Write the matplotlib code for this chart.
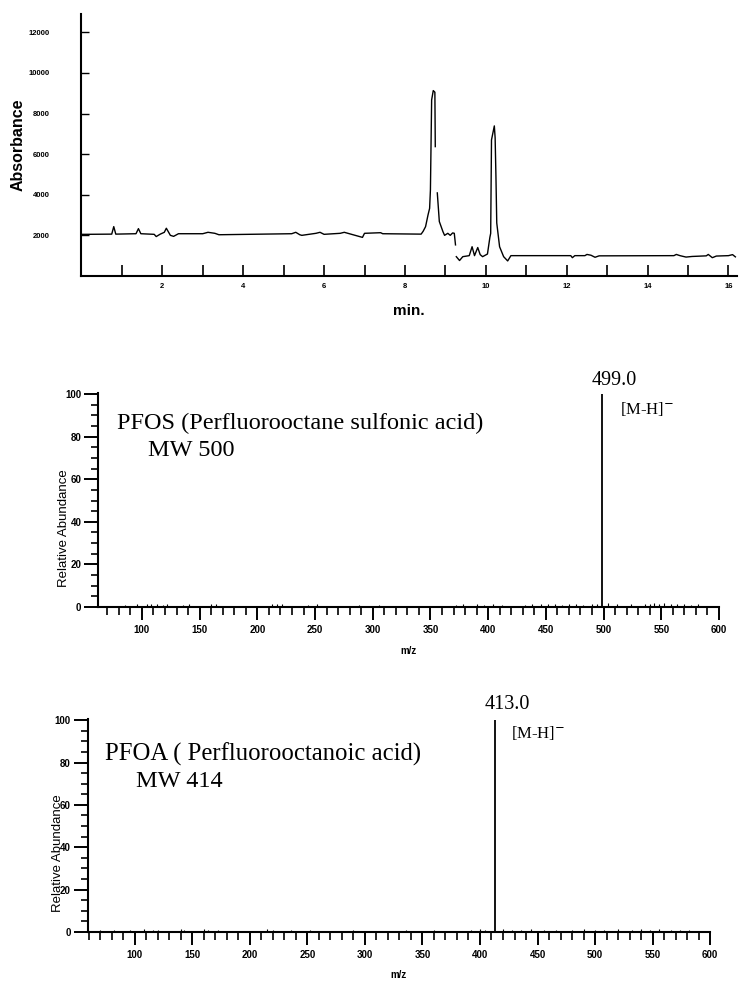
import numpy as np
import matplotlib
matplotlib.use("Agg")
import matplotlib.pyplot as plt
from matplotlib.ticker import FixedLocator, MultipleLocator

# ---------------- data ----------------
# Chromatogram (time in min, absorbance); NaN marks breaks in the trace
chrom_time = [0.0, 0.1, 0.75, 0.8, 0.85, 1.35, 1.41, 1.47, 1.8, 1.85, 1.95, 2.05, 2.1, 2.2,
              2.28, 2.4, 3.0, 3.13, 3.3, 3.4, 5.2, 5.3, 5.4, 5.45, 5.8, 5.9, 6.0, 6.4, 6.5,
              6.95, 7.0, 7.4, 7.45, 8.4, 8.45, 8.51, 8.57, 8.61, 8.63, 8.66, 8.70, 8.74, 8.75,
              8.75,
              8.80, 8.85, 8.94, 8.98, 9.06, 9.12, 9.18, 9.22, 9.25,
              9.26,
              9.27, 9.35, 9.43, 9.59, 9.66, 9.72, 9.80, 9.86, 9.92, 10.04, 10.10, 10.12, 10.14,
              10.21, 10.23, 10.25, 10.27, 10.34, 10.44, 10.54, 10.62, 12.10, 12.14, 12.2,
              12.45, 12.5, 12.6, 12.7, 12.8, 14.65, 14.71, 14.8, 14.95, 15.1, 15.45, 15.5,
              15.6, 15.7, 16.0, 16.1, 16.17]
chrom_abs = [2050, 2050, 2060, 2430, 2060, 2080, 2330, 2080, 2050, 1940, 2060, 2150, 2350, 2000,
             1950, 2080, 2080, 2150, 2100, 2030, 2080, 2150, 2030, 2000, 2100, 2150, 2050, 2100,
             2150, 1900, 2100, 2130, 2080, 2060, 2200, 2430, 3000, 3330, 4240, 8670, 9130, 9050,
             6370,
             np.nan,
             4090, 2680, 2180, 2000, 2100, 2000, 2120, 2100, 1530,
             np.nan,
             950, 760, 950, 1000, 1440, 1000, 1400, 1050, 950, 1080, 1900, 2100, 6700,
             7390, 6800, 4890, 2610, 1440, 950, 740, 1000, 1000, 900, 1000,
             1000, 1060, 1020, 920, 990, 1000, 1060, 1000, 930, 960, 990, 1060,
             900, 980, 1000, 1050, 940]
chrom_xticks = list(range(1, 17))
chrom_xlabels = ["" if t % 2 else str(t) for t in chrom_xticks]
chrom_yticks = [2000, 4000, 6000, 8000, 10000, 12000]

# PFOS mass spectrum
pfos_peak_mz = 499.0
pfos_peak_int = 100.0
pfos_noise_mz = [85, 96, 104, 108, 113, 118, 122, 136, 141, 160, 164, 213, 217, 221, 244, 252,
                 288, 305, 372, 378, 390, 396, 404, 412, 432, 438, 446, 452, 458, 464, 470, 476,
                 482, 490, 494, 504, 512, 524, 536, 540, 544, 548, 552, 558, 564, 570, 576, 582]
pfos_noise_int = [1.0, 1.5, 1.2, 1.5, 1.2, 1.0, 1.5, 1.0, 1.2, 1.5, 1.2, 1.5, 1.5, 1.2, 1.0, 1.5,
                  1.0, 1.0, 1.0, 1.5, 1.2, 1.0, 1.5, 1.0, 1.0, 1.2, 1.5, 1.5, 1.2, 1.0, 1.5, 1.2,
                  1.0, 1.2, 1.5, 2.0, 1.2, 1.5, 1.2, 1.5, 2.0, 1.5, 2.0, 1.5, 1.2, 1.5, 1.0, 1.2]

# PFOA mass spectrum
pfoa_peak_mz = 413.0
pfoa_peak_int = 100.0
pfoa_noise_mz = [70, 82, 96, 108, 116, 120, 140, 143, 160, 164, 172, 215, 220, 236, 252, 290,
                 336, 360, 392, 400, 404, 420, 428, 436, 444, 456, 466, 480, 490, 500, 508, 520,
                 532, 540, 548, 556, 566, 574, 582]
pfoa_noise_int = [1.0, 1.2, 1.0, 1.5, 1.2, 1.0, 1.5, 1.2, 1.5, 1.2, 1.0, 1.5, 1.2, 1.0, 1.0, 1.0,
                  1.0, 1.2, 1.0, 1.5, 1.2, 1.5, 1.2, 1.0, 1.5, 1.2, 1.0, 1.2, 1.5, 1.2, 1.0, 1.5,
                  1.2, 1.5, 1.0, 1.5, 1.2, 1.0, 1.2]

ms_yticks = [0, 20, 40, 60, 80, 100]
ms_xticks = [100, 150, 200, 250, 300, 350, 400, 450, 500, 550, 600]

# ---------------- figure ----------------
fig = plt.figure(figsize=(7.42, 9.81), dpi=100)

serif = "Liberation Serif"
sans = "Liberation Sans"

# --- Chromatogram ---
ax1 = fig.add_axes([0.1097, 0.7187, 0.883, 0.267])
ax1.plot(chrom_time, chrom_abs, color="black", lw=1.0)
ax1.set_xlim(0, 16.2)
ax1.set_ylim(0, 12900)
for s in ["top", "right"]:
    ax1.spines[s].set_visible(False)
for s in ["left", "bottom"]:
    ax1.spines[s].set_linewidth(1.5)
ax1.xaxis.set_major_locator(FixedLocator(chrom_xticks))
ax1.set_xticklabels(chrom_xlabels)
ax1.yaxis.set_major_locator(FixedLocator(chrom_yticks))
ax1.set_yticklabels([str(v) for v in chrom_yticks])
ax1.tick_params(axis="x", direction="in", length=8, width=1.2, pad=5)
ax1.tick_params(axis="y", direction="in", length=6, width=1.0, pad=23)
for lab in ax1.get_xticklabels() + ax1.get_yticklabels():
    lab.set_fontsize(5.5)
    lab.set_fontfamily(sans)
    lab.set_fontweight("bold")
ax1.set_xlabel("min.", fontsize=11, fontweight="bold", family=sans, labelpad=10)
ax1.set_ylabel("Absorbance", fontsize=11.5, fontweight="bold", family=sans, labelpad=2)


def mass_spec(ax, xlim, peak_mz, peak_int, noise_mz, noise_int, texts, ylab_x, xlab_pad):
    ax.vlines(noise_mz, 0, noise_int, color="black", lw=0.8)
    ax.vlines([peak_mz], 0, [peak_int], color="black", lw=1.3)
    ax.set_xlim(*xlim)
    ax.set_ylim(0, 100.5)
    for s in ["top", "right"]:
        ax.spines[s].set_visible(False)
    for s in ["left", "bottom"]:
        ax.spines[s].set_linewidth(1.5)
    ax.xaxis.set_major_locator(FixedLocator(ms_xticks))
    ax.xaxis.set_minor_locator(MultipleLocator(10))
    ax.yaxis.set_major_locator(FixedLocator(ms_yticks))
    ax.yaxis.set_minor_locator(MultipleLocator(5))
    ax.tick_params(axis="x", which="major", direction="out", length=9, width=1.4, pad=4)
    ax.tick_params(axis="x", which="minor", direction="out", length=6, width=1.2)
    ax.tick_params(axis="y", which="major", direction="out", length=10, width=1.4, pad=2)
    ax.tick_params(axis="y", which="minor", direction="out", length=5, width=1.2)
    ax.set_xticklabels([str(v) for v in ms_xticks])
    ax.set_yticklabels([str(v) for v in ms_yticks])
    for lab in ax.get_xticklabels() + ax.get_yticklabels():
        lab.set_fontsize(7)
        lab.set_fontfamily(sans)
        lab.set_fontweight("bold")
    ax.set_xlabel("m/z", fontsize=7, fontweight="bold", family=sans, labelpad=xlab_pad)
    ax.set_ylabel("Relative Abundance", fontsize=9.5, family=sans)
    ax.yaxis.set_label_coords(ylab_x, 0.37)
    for (tx, ty, s, fs) in texts:
        ax.text(tx, ty, s, family=serif, fontsize=fs, ha="left", va="center", clip_on=False)


ax2 = fig.add_axes([0.132, 0.3812, 0.837, 0.2182])
mass_spec(ax2, (61.9, 600), pfos_peak_mz, pfos_peak_int, pfos_noise_mz, pfos_noise_int,
          [(78.4, 86, "PFOS (Perfluorooctane sulfonic acid)", 17.5),
           (105, 73.4, "MW 500", 17.5),
           (489.6, 106.5, "499.0", 14.5),
           (514, 93, "[M-H]$^{-}$", 12)],
          -0.045, 8)

ax3 = fig.add_axes([0.118, 0.0499, 0.839, 0.2171])
mass_spec(ax3, (58.9, 600), pfoa_peak_mz, pfoa_peak_int, pfoa_noise_mz, pfoa_noise_int,
          [(74, 84, "PFOA ( Perfluorooctanoic acid)", 17.8),
           (101, 71, "MW 414", 17.5),
           (404, 107.5, "413.0", 14.5),
           (426.6, 94, "[M-H]$^{-}$", 12)],
          -0.038, 7)

fig.savefig("out.png", dpi=100)
